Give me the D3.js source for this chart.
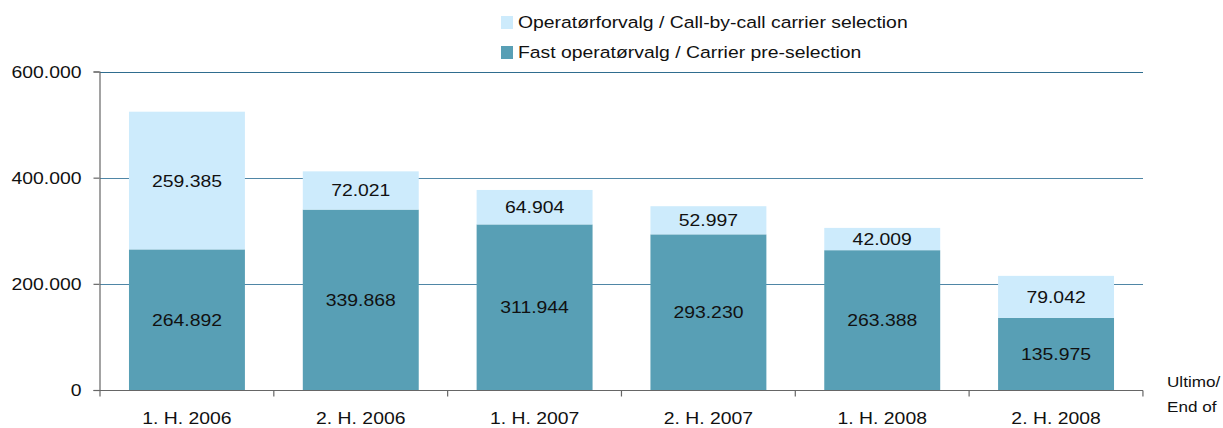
<!DOCTYPE html>
<html>
<head>
<meta charset="utf-8">
<script src="https://cdn.jsdelivr.net/npm/d3@7/dist/d3.min.js"></script>
<style>
body { margin: 0; background: #fff; }
svg text { font-family: "Liberation Sans", Arial, sans-serif; fill: #111; }
</style>
</head>
<body>
<script>
// chart data
const categories = ["1. H. 2006", "2. H. 2006", "1. H. 2007", "2. H. 2007", "1. H. 2008", "2. H. 2008"];
const preSelection = [264892, 339868, 311944, 293230, 263388, 135975];
const callByCall = [259385, 72021, 64904, 52997, 42009, 79042];
const yTicks = [0, 200000, 400000, 600000];
const seriesNames = ["Operatørforvalg / Call-by-call carrier selection", "Fast operatørvalg / Carrier pre-selection"];

const width = 1223, height = 428;
const margin = { left: 100, right: 80, top: 71.5, bottom: 38 };
const stretch = 1.14; // the original text is drawn a bit wider than plain Arial
const fmt = v => d3.format(",")(v).replace(/,/g, ".");

// move x/y of a text into a transform so the glyphs can be widened
function widen(sel)
{
	sel.each(function() {
		let t = d3.select(this);
		let tx = +t.attr("x") || 0, ty = +t.attr("y") || 0;
		t.attr("x", 0).attr("y", 0)
			.attr("transform", "translate(" + tx + "," + ty + ") scale(" + stretch + ",1)");
	});
}

const svg = d3.select("body").append("svg")
	.attr("width", width)
	.attr("height", height);

const x = d3.scaleBand()
	.domain(categories)
	.range([margin.left, width - margin.right])
	.paddingInner(0.333)
	.paddingOuter(0.1667);

const y = d3.scaleLinear()
	.domain([0, 600000])
	.range([height - margin.bottom, margin.top]);

// gridlines
svg.append("g").selectAll("line")
	.data(yTicks.filter(d => d > 0))
	.enter().append("line")
	.attr("x1", margin.left).attr("x2", width - margin.right)
	.attr("y1", d => Math.round(y(d)) + 0.5).attr("y2", d => Math.round(y(d)) + 0.5)
	.attr("stroke", d => d === 600000 ? "#2f6d8f" : "#4f86a6")
	.attr("stroke-width", 1.2);

// stacked bars
const colorDark = "#589fb5", colorLight = "#cdebfc";
const rows = categories.map((c, i) => ({ c: c, a: preSelection[i], b: callByCall[i] }));

svg.append("g").selectAll("rect.dark")
	.data(rows).enter().append("rect")
	.attr("x", d => x(d.c)).attr("width", x.bandwidth())
	.attr("y", d => y(d.a)).attr("height", d => y(0) - y(d.a))
	.attr("fill", colorDark);

svg.append("g").selectAll("rect.light")
	.data(rows).enter().append("rect")
	.attr("x", d => x(d.c)).attr("width", x.bandwidth())
	.attr("y", d => y(d.a + d.b)).attr("height", d => y(d.a) - y(d.a + d.b))
	.attr("fill", colorLight);

// value labels
const labels = svg.append("g").attr("font-size", 17).attr("text-anchor", "middle");
labels.selectAll("text.a").data(rows).enter().append("text")
	.attr("x", d => x(d.c) + x.bandwidth() / 2)
	.attr("y", d => (y(0) + y(d.a)) / 2 + 6)
	.text(d => fmt(d.a));
labels.selectAll("text.b").data(rows).enter().append("text")
	.attr("x", d => x(d.c) + x.bandwidth() / 2)
	.attr("y", d => (y(d.a) + y(d.a + d.b)) / 2 + 6)
	.text(d => fmt(d.b));
widen(labels.selectAll("text"));

// y axis
const yAxis = svg.append("g")
	.attr("transform", "translate(" + (margin.left - 0.5) + ",0)")
	.call(d3.axisLeft(y).tickValues(yTicks).tickSize(6).tickPadding(12).tickFormat(fmt));
yAxis.selectAll("text").attr("font-size", 17).attr("fill", "#111").attr("dy", "0.35em");
widen(yAxis.selectAll("text").attr("x", -18));
yAxis.selectAll("line, path").attr("stroke", "#666").attr("stroke-width", 1.2);

// x axis with ticks at band boundaries
const xAxisG = svg.append("g");
const y0 = Math.round(y(0)) + 0.5;
xAxisG.append("line")
	.attr("x1", margin.left - 6).attr("x2", width - margin.right)
	.attr("y1", y0).attr("y2", y0)
	.attr("stroke", "#666").attr("stroke-width", 1.2);
const step = x.step();
const bounds = d3.range(categories.length + 1).map(i => margin.left + i * step);
xAxisG.selectAll("line.tick").data(bounds).enter().append("line")
	.attr("x1", d => d).attr("x2", d => d)
	.attr("y1", y0).attr("y2", y0 + 6)
	.attr("stroke", "#666").attr("stroke-width", 1.2);
xAxisG.selectAll("text").data(categories).enter().append("text")
	.attr("x", d => x(d) + x.bandwidth() / 2)
	.attr("y", 424)
	.attr("font-size", 17)
	.attr("text-anchor", "middle")
	.text(d => d);
widen(xAxisG.selectAll("text"));

// axis caption
const caption = svg.append("g").attr("font-size", 15);
caption.append("text").attr("x", 1167).attr("y", 387).text("Ultimo/");
caption.append("text").attr("x", 1167).attr("y", 412).text("End of");
widen(caption.selectAll("text"));

// legend
const legend = svg.append("g").attr("font-size", 17);
const legendColors = [colorLight, colorDark];
seriesNames.forEach((name, i) => {
	legend.append("rect")
		.attr("x", 501).attr("y", 16 + i * 30)
		.attr("width", 12).attr("height", 13)
		.attr("fill", legendColors[i]);
	legend.append("text")
		.attr("x", 518).attr("y", 28 + i * 30)
		.text(name);
});
widen(legend.selectAll("text"));
</script>
</body>
</html>
